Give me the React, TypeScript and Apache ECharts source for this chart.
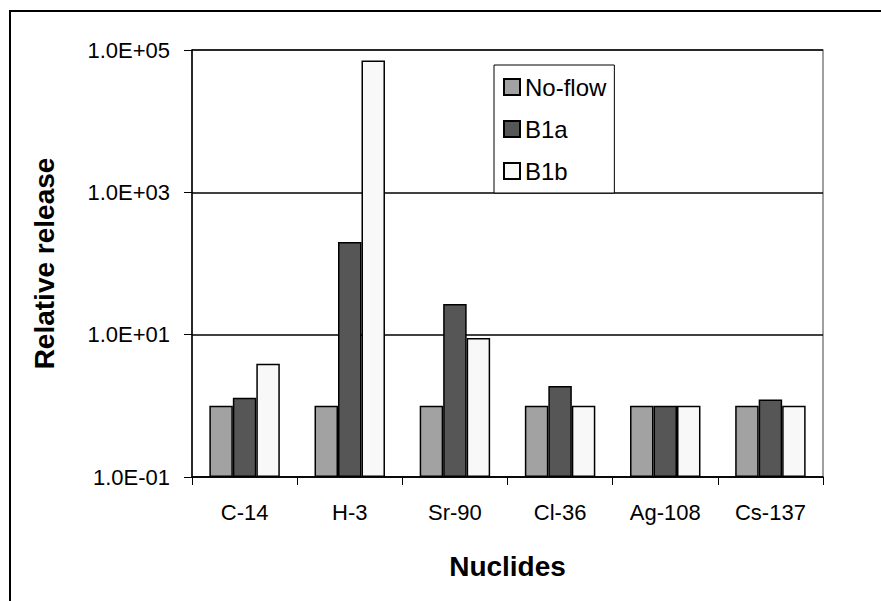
import React, { useEffect, useRef } from "react";
import * as echarts from "echarts";

const categories = ["C-14", "H-3", "Sr-90", "Cl-36", "Ag-108", "Cs-137"];
const noFlow = [1, 1, 1, 1, 1, 1];
const b1a = [1.3, 200, 27, 1.9, 1, 1.23];
const b1b = [3.9, 71000, 9, 1, 1, 1];

const FONT = "'Liberation Sans', Arial, sans-serif";

function fmtExp(v: number): string {
  const s = v.toExponential(1);
  const [m, e] = s.split("e");
  const n = parseInt(e, 10);
  const sign = n < 0 ? "-" : "+";
  const abs = Math.abs(n);
  return `${m}E${sign}${abs < 10 ? "0" + abs : abs}`;
}

export default function App() {
  const ref = useRef<HTMLDivElement>(null);
  useEffect(() => {
    if (!ref.current) return;
    const chart = echarts.init(ref.current, null, { renderer: "svg" });
    const barStyle = (color: string) => ({
      color,
      borderColor: "#000",
      borderWidth: 1.5,
    });
    chart.setOption({
      animation: false,
      backgroundColor: "#fff",
      textStyle: { fontFamily: FONT },
      graphic: [
        {
          type: "rect",
          shape: { x: 10, y: 11, width: 900, height: 700 },
          style: { fill: "none", stroke: "#000", lineWidth: 2 },
          silent: true,
        },
      ],
      grid: {
        left: 192,
        top: 50,
        right: 58,
        bottom: 124,
        show: true,
        borderColor: "#808080",
        borderWidth: 1.5,
        backgroundColor: "transparent",
      },
      legend: {
        orient: "vertical",
        left: 494,
        top: 65,
        padding: [10, 8, 10, 9],
        borderColor: "#000",
        borderWidth: 1,
        backgroundColor: "#fff",
        itemWidth: 16,
        itemHeight: 16,
        itemGap: 18,
        icon: "rect",
        textStyle: { fontSize: 24, color: "#000", fontFamily: FONT, lineHeight: 24 },
        data: ["No-flow", "B1a", "B1b"],
      },
      xAxis: {
        type: "category",
        data: categories,
        axisLine: { lineStyle: { color: "#000", width: 1.5 } },
        axisTick: { show: true, length: 8, lineStyle: { color: "#000" } },
        axisLabel: { fontSize: 22, color: "#000", margin: 24, fontFamily: FONT },
        name: "Nuclides",
        nameLocation: "middle",
        nameGap: 75,
        nameTextStyle: { fontSize: 28, fontWeight: "bold", color: "#000", fontFamily: FONT },
      },
      yAxis: {
        type: "log",
        logBase: 10,
        min: 0.1,
        max: 100000,
        interval: 2,
        startValue: 0.1,
        axisLine: { show: true, lineStyle: { color: "#000", width: 1.5 } },
        axisTick: { show: true, length: 8, lineStyle: { color: "#000" } },
        axisLabel: {
          fontSize: 22,
          color: "#000",
          margin: 22,
          fontFamily: FONT,
          formatter: (v: number) => fmtExp(v),
        },
        splitLine: { show: true, lineStyle: { color: "#000", width: 1.5 } },
        name: "Relative release",
        nameLocation: "middle",
        nameGap: 134,
        nameTextStyle: { fontSize: 28, fontWeight: "bold", color: "#000", fontFamily: FONT },
      },
      series: [
        {
          name: "No-flow",
          type: "bar",
          data: noFlow,
          barGap: "0%",
          barCategoryGap: "33%",
          itemStyle: barStyle("#a2a2a2"),
        },
        {
          name: "B1a",
          type: "bar",
          data: b1a,
          barGap: "0%",
          barCategoryGap: "33%",
          itemStyle: barStyle("#565656"),
        },
        {
          name: "B1b",
          type: "bar",
          data: b1b,
          barGap: "0%",
          barCategoryGap: "33%",
          itemStyle: barStyle("#f8f8f8"),
        },
      ],
    });
    return () => chart.dispose();
  }, []);
  return (
    <div
      ref={ref}
      style={{ position: "fixed", left: 0, top: 0, width: 881, height: 601 }}
    />
  );
}
